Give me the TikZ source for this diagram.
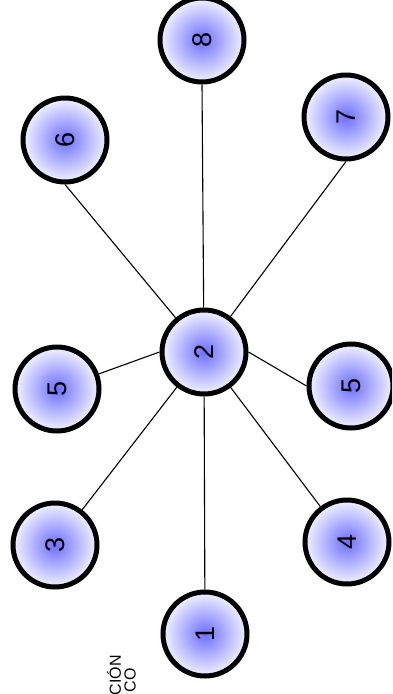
\documentclass[tikz,border=0pt]{standalone}
\usepackage{fontspec}
\setmainfont{Liberation Sans}
\begin{document}
\begin{tikzpicture}[x=1pt,y=-1pt,
  numnode/.style={circle, draw=black, line width=5pt, minimum size=84pt, inner sep=0pt,
    inner color={rgb,255:red,110;green,110;blue,255},
    outer color={rgb,255:red,242;green,242;blue,255},
    font=\fontsize{27}{27}\selectfont, rotate=90},
  link/.style={draw=black, line width=1.1pt},
  caption/.style={font=\fontsize{16}{16}\selectfont, rotate=90, inner sep=0pt, anchor=east}
]
\useasboundingbox (0,0) rectangle (392,694);
\begin{scope}
\clip (0,0) rectangle (392,694);
\node[numnode] (n2) at (204,352) {2};
\node[numnode] (n1) at (205,634) {1};
\node[numnode] (n3) at (55,545) {3};
\node[numnode] (n4) at (347,542) {4};
\node[numnode] (n5a) at (57,389) {5};
\node[numnode] (n5b) at (351,386) {5};
\node[numnode] (n6) at (65,140) {6};
\node[numnode] (n7) at (346,117) {7};
\node[numnode] (n8) at (202,40) {8};
\node[caption] (c1) at (114,655) {CIÓN};
\node[caption] (c2) at (130,668) {CO};
\end{scope}
\path[link] (n2) -- (n1);
\path[link] (n2) -- (n3);
\path[link] (n2) -- (n4);
\path[link] (n2) -- (n6.west);
\path[link] (n2) -- (n7.west);
\path[link] (n2) -- (n8.west);
\path[link] (n2.north) -- (n5a);
\path[link] (n2.south) -- (n5b.north);
\end{tikzpicture}
\end{document}
